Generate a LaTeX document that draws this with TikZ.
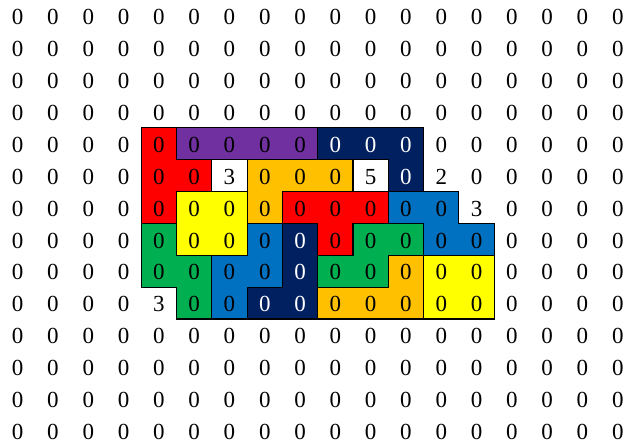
\documentclass[tikz,border=0pt]{standalone}
\usepackage{fontspec}
\setmainfont{Liberation Serif}
\definecolor{pRed}{HTML}{FF0000}
\definecolor{pPurple}{HTML}{7030A0}
\definecolor{pNavy}{HTML}{002060}
\definecolor{pOrange}{HTML}{FFC000}
\definecolor{pYellow}{HTML}{FFFF00}
\definecolor{pBlue}{HTML}{0070C0}
\definecolor{pGreen}{HTML}{00B050}
% non-zero cell values
\expandafter\def\csname cv5-6\endcsname{3}
\expandafter\def\csname cv5-10\endcsname{5}
\expandafter\def\csname cv5-12\endcsname{2}
\expandafter\def\csname cv6-13\endcsname{3}
\expandafter\def\csname cv9-4\endcsname{3}
\begin{document}
\begin{tikzpicture}[x=35.3pt,y=-31.9pt,
  num/.style={font=\fontsize{23}{23}\selectfont, inner sep=0pt, anchor=base},
  piece/.style={draw=black, line width=1.1pt, line join=miter},
  t-4-9/.style={text=white}, t-4-10/.style={text=white}, t-4-11/.style={text=white},
  t-5-11/.style={text=white}, t-7-8/.style={text=white}, t-8-8/.style={text=white},
  t-9-7/.style={text=white}, t-9-8/.style={text=white}]
\useasboundingbox (0,0) rectangle (17.762,13.856);
% pieces
\filldraw[piece, fill=pRed] (4,4) -- (5,4) -- (5,5) -- (6,5) -- (6,6) -- (5,6) -- (5,7) -- (4,7) -- cycle;
\filldraw[piece, fill=pPurple] (5,4) rectangle (9,5);
\filldraw[piece, fill=pNavy] (9,4) -- (12,4) -- (12,6) -- (11,6) -- (11,5) -- (9,5) -- cycle;
\filldraw[piece, fill=pOrange] (7,5) -- (10,5) -- (10,6) -- (8,6) -- (8,7) -- (7,7) -- cycle;
\filldraw[piece, fill=pYellow] (5,6) rectangle (7,8);
\filldraw[piece, fill=pRed] (8,6) -- (11,6) -- (11,7) -- (10,7) -- (10,8) -- (9,8) -- (9,7) -- (8,7) -- cycle;
\filldraw[piece, fill=pBlue] (11,6) -- (13,6) -- (13,7) -- (14,7) -- (14,8) -- (12,8) -- (12,7) -- (11,7) -- cycle;
\filldraw[piece, fill=pGreen] (4,7) -- (5,7) -- (5,8) -- (6,8) -- (6,10) -- (5,10) -- (5,9) -- (4,9) -- cycle;
\filldraw[piece, fill=pBlue] (7,7) -- (8,7) -- (8,9) -- (7,9) -- (7,10) -- (6,10) -- (6,8) -- (7,8) -- cycle;
\filldraw[piece, fill=pNavy] (8,7) -- (9,7) -- (9,10) -- (7,10) -- (7,9) -- (8,9) -- cycle;
\filldraw[piece, fill=pGreen] (10,7) -- (12,7) -- (12,8) -- (11,8) -- (11,9) -- (9,9) -- (9,8) -- (10,8) -- cycle;
\filldraw[piece, fill=pOrange] (11,8) -- (12,8) -- (12,10) -- (9,10) -- (9,9) -- (11,9) -- cycle;
\filldraw[piece, fill=pYellow] (12,8) rectangle (14,10);
% numbers
\foreach \r in {0,...,13}{
  \foreach \ci in {0,...,17}{
    \node[num, t-\r-\ci/.try] (n-\r-\ci) at (\ci+0.5,\r+0.775)
      {\ifcsname cv\r-\ci\endcsname\csname cv\r-\ci\endcsname\else 0\fi};
  }
}
\end{tikzpicture}
\end{document}
